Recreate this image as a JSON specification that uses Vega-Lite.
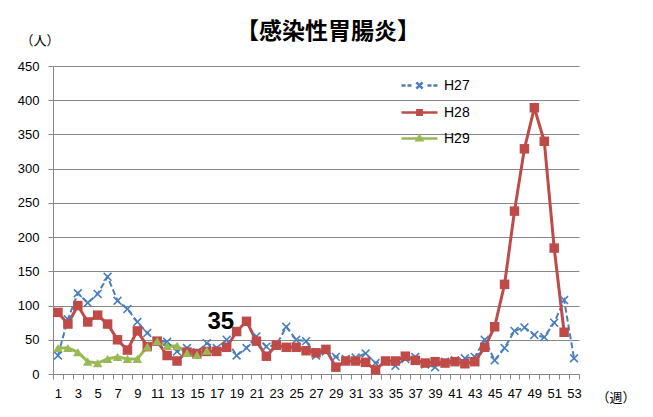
{
  "$schema": "https://vega.github.io/schema/vega-lite/v6.json",
  "width": 526,
  "height": 308,
  "autosize": {"type": "none"},
  "padding": {"left": 53, "top": 66, "right": 74, "bottom": 43},
  "background": "white",
  "title": {"text": "【感染性胃腸炎】", "font": "Noto Sans CJK JP", "fontSize": 23, "fontWeight": "bold", "color": "#000000", "anchor": "middle", "dx": 12, "offset": -28, "baseline": "alphabetic"},
  "config": {"view": {"stroke": null}, "font": "Liberation Sans"},
  "data": {"values": [
    {"week": 1, "series": "H27", "value": 27}, {"week": 2, "series": "H27", "value": 80}, {"week": 3, "series": "H27", "value": 118}, {"week": 4, "series": "H27", "value": 104}, {"week": 5, "series": "H27", "value": 117}, {"week": 6, "series": "H27", "value": 142}, {"week": 7, "series": "H27", "value": 107}, {"week": 8, "series": "H27", "value": 95}, {"week": 9, "series": "H27", "value": 76}, {"week": 10, "series": "H27", "value": 60},
    {"week": 11, "series": "H27", "value": 48}, {"week": 12, "series": "H27", "value": 47}, {"week": 13, "series": "H27", "value": 33}, {"week": 14, "series": "H27", "value": 38}, {"week": 15, "series": "H27", "value": 32}, {"week": 16, "series": "H27", "value": 45}, {"week": 17, "series": "H27", "value": 38}, {"week": 18, "series": "H27", "value": 50}, {"week": 19, "series": "H27", "value": 27}, {"week": 20, "series": "H27", "value": 38},
    {"week": 21, "series": "H27", "value": 55}, {"week": 22, "series": "H27", "value": 40}, {"week": 23, "series": "H27", "value": 42}, {"week": 24, "series": "H27", "value": 69}, {"week": 25, "series": "H27", "value": 50}, {"week": 26, "series": "H27", "value": 48}, {"week": 27, "series": "H27", "value": 27}, {"week": 28, "series": "H27", "value": 33}, {"week": 29, "series": "H27", "value": 25}, {"week": 30, "series": "H27", "value": 22},
    {"week": 31, "series": "H27", "value": 24}, {"week": 32, "series": "H27", "value": 30}, {"week": 33, "series": "H27", "value": 16}, {"week": 34, "series": "H27", "value": 18}, {"week": 35, "series": "H27", "value": 12}, {"week": 36, "series": "H27", "value": 22}, {"week": 37, "series": "H27", "value": 25}, {"week": 38, "series": "H27", "value": 14}, {"week": 39, "series": "H27", "value": 10}, {"week": 40, "series": "H27", "value": 18},
    {"week": 41, "series": "H27", "value": 20}, {"week": 42, "series": "H27", "value": 23}, {"week": 43, "series": "H27", "value": 25}, {"week": 44, "series": "H27", "value": 50}, {"week": 45, "series": "H27", "value": 20}, {"week": 46, "series": "H27", "value": 38}, {"week": 47, "series": "H27", "value": 63}, {"week": 48, "series": "H27", "value": 68}, {"week": 49, "series": "H27", "value": 57}, {"week": 50, "series": "H27", "value": 54},
    {"week": 51, "series": "H27", "value": 75}, {"week": 52, "series": "H27", "value": 108}, {"week": 53, "series": "H27", "value": 23},
    {"week": 1, "series": "H28", "value": 90}, {"week": 2, "series": "H28", "value": 73}, {"week": 3, "series": "H28", "value": 100}, {"week": 4, "series": "H28", "value": 76}, {"week": 5, "series": "H28", "value": 86}, {"week": 6, "series": "H28", "value": 73}, {"week": 7, "series": "H28", "value": 50}, {"week": 8, "series": "H28", "value": 35}, {"week": 9, "series": "H28", "value": 63}, {"week": 10, "series": "H28", "value": 40},
    {"week": 11, "series": "H28", "value": 48}, {"week": 12, "series": "H28", "value": 27}, {"week": 13, "series": "H28", "value": 19}, {"week": 14, "series": "H28", "value": 32}, {"week": 15, "series": "H28", "value": 30}, {"week": 16, "series": "H28", "value": 33}, {"week": 17, "series": "H28", "value": 33}, {"week": 18, "series": "H28", "value": 39}, {"week": 19, "series": "H28", "value": 62}, {"week": 20, "series": "H28", "value": 77},
    {"week": 21, "series": "H28", "value": 48}, {"week": 22, "series": "H28", "value": 26}, {"week": 23, "series": "H28", "value": 42}, {"week": 24, "series": "H28", "value": 39}, {"week": 25, "series": "H28", "value": 39}, {"week": 26, "series": "H28", "value": 34}, {"week": 27, "series": "H28", "value": 31}, {"week": 28, "series": "H28", "value": 36}, {"week": 29, "series": "H28", "value": 10}, {"week": 30, "series": "H28", "value": 19},
    {"week": 31, "series": "H28", "value": 19}, {"week": 32, "series": "H28", "value": 17}, {"week": 33, "series": "H28", "value": 6}, {"week": 34, "series": "H28", "value": 19}, {"week": 35, "series": "H28", "value": 19}, {"week": 36, "series": "H28", "value": 26}, {"week": 37, "series": "H28", "value": 20}, {"week": 38, "series": "H28", "value": 16}, {"week": 39, "series": "H28", "value": 18}, {"week": 40, "series": "H28", "value": 16},
    {"week": 41, "series": "H28", "value": 18}, {"week": 42, "series": "H28", "value": 15}, {"week": 43, "series": "H28", "value": 18}, {"week": 44, "series": "H28", "value": 39}, {"week": 45, "series": "H28", "value": 69}, {"week": 46, "series": "H28", "value": 131}, {"week": 47, "series": "H28", "value": 238}, {"week": 48, "series": "H28", "value": 329}, {"week": 49, "series": "H28", "value": 389}, {"week": 50, "series": "H28", "value": 340},
    {"week": 51, "series": "H28", "value": 184}, {"week": 52, "series": "H28", "value": 61},
    {"week": 1, "series": "H29", "value": 38}, {"week": 2, "series": "H29", "value": 38}, {"week": 3, "series": "H29", "value": 32}, {"week": 4, "series": "H29", "value": 18}, {"week": 5, "series": "H29", "value": 16}, {"week": 6, "series": "H29", "value": 22}, {"week": 7, "series": "H29", "value": 25}, {"week": 8, "series": "H29", "value": 22}, {"week": 9, "series": "H29", "value": 22}, {"week": 10, "series": "H29", "value": 40},
    {"week": 11, "series": "H29", "value": 48}, {"week": 12, "series": "H29", "value": 41}, {"week": 13, "series": "H29", "value": 41}, {"week": 14, "series": "H29", "value": 31}, {"week": 15, "series": "H29", "value": 28}, {"week": 16, "series": "H29", "value": 34}
  ]},
  "encoding": {
    "x": {"field": "week", "type": "ordinal", "sort": "ascending",
      "scale": {"type": "band", "paddingInner": 0, "paddingOuter": 0},
      "axis": {"labelExpr": "datum.value % 2 === 1 ? datum.label : ''", "labelAngle": 0, "tickBand": "extent", "tickSize": 5, "tickColor": "#888888", "domainColor": "#888888", "grid": false, "labelFontSize": 13, "labelColor": "#000000", "labelPadding": 8, "labelFont": "Liberation Sans",
        "title": "（週）", "titleFont": "Noto Sans CJK JP", "titleFontSize": 13, "titleFontWeight": "normal", "titleColor": "#000000", "titleX": 543, "titleY": 23, "titleAlign": "left", "titleBaseline": "middle", "titleAngle": 0}},
    "y": {"field": "value", "type": "quantitative",
      "scale": {"domain": [0, 450], "nice": false},
      "axis": {"values": [0, 50, 100, 150, 200, 250, 300, 350, 400, 450], "tickSize": 5, "tickColor": "#888888", "domainColor": "#888888", "gridColor": "#888888", "labelFontSize": 13, "labelColor": "#000000", "labelPadding": 9, "labelFont": "Liberation Sans",
        "title": "（人）", "titleFont": "Noto Sans CJK JP", "titleFontSize": 13, "titleFontWeight": "normal", "titleColor": "#000000", "titleX": -33, "titleY": -26, "titleAlign": "left", "titleBaseline": "middle", "titleAngle": 0}},
    "color": {"field": "series", "type": "nominal",
      "scale": {"domain": ["H27", "H28", "H29"], "range": ["#4A7EBB", "#BE4B48", "#98B954"]},
      "legend": null}
  },
  "layer": [
    {"mark": {"type": "point", "filled": false, "opacity": 1, "strokeWidth": 2.5, "size": 1},
      "encoding": {
        "color": {"field": "series", "type": "nominal",
          "legend": {"orient": "none", "legendX": 356, "legendY": 9, "title": null, "padding": 0, "rowPadding": 8, "symbolSize": 324, "symbolStrokeWidth": 2.5, "symbolOpacity": 1, "labelOffset": 14, "labelFontSize": 14, "labelColor": "#000000", "labelFont": "Liberation Sans"}},
        "shape": {"field": "series", "type": "nominal",
          "scale": {"domain": ["H27", "H28", "H29"], "range": [
            "M-2,0H-1.55M-1.33,0H-0.89M0.89,0H1.33M1.55,0H2M-0.35,-0.35L0.35,0.35M-0.35,0.35L0.35,-0.35",
            "M-2,0H2M-0.24,-0.24H0.24V0.24H-0.24ZM-0.12,-0.12H0.12V0.12H-0.12Z",
            "M-2,0H2M0,-0.28L0.3,0.2H-0.3ZM0,-0.12L0.13,0.1H-0.13Z"]},
          "legend": {"orient": "none", "legendX": 356, "legendY": 9, "title": null, "padding": 0, "rowPadding": 8, "symbolSize": 324, "symbolStrokeWidth": 2.5, "symbolOpacity": 1, "labelOffset": 14, "labelFontSize": 14, "labelColor": "#000000", "labelFont": "Liberation Sans"}}
      }},
    {"transform": [{"filter": "datum.series === 'H27'"}], "mark": {"type": "line", "strokeWidth": 2, "strokeDash": [6, 3]}},
    {"transform": [{"filter": "datum.series !== 'H27'"}], "mark": {"type": "line", "strokeWidth": 3}},
    {"transform": [{"filter": "datum.series === 'H27'"}], "mark": {"type": "point", "filled": true, "opacity": 1, "size": 80, "shape": "M-1,-0.75L-0.75,-1L0,-0.25L0.75,-1L1,-0.75L0.25,0L1,0.75L0.75,1L0,0.25L-0.75,1L-1,0.75L-0.25,0Z"}},
    {"transform": [{"filter": "datum.series === 'H28'"}], "mark": {"type": "point", "filled": true, "opacity": 1, "size": 90, "shape": "square"}},
    {"transform": [{"filter": "datum.series === 'H29'"}], "mark": {"type": "point", "filled": true, "opacity": 1, "size": 90, "shape": "triangle-up"}},
    {"data": {"values": [{"week": 17, "label": "35", "value": 76}]},
      "mark": {"type": "text", "fontSize": 24, "fontWeight": "bold", "font": "Liberation Sans", "color": "#000000", "baseline": "middle", "align": "center", "dx": 4},
      "encoding": {"x": {"field": "week", "type": "ordinal"}, "y": {"field": "value", "type": "quantitative"}, "text": {"field": "label"}, "color": {"value": "#000000"}}}
  ]
}
